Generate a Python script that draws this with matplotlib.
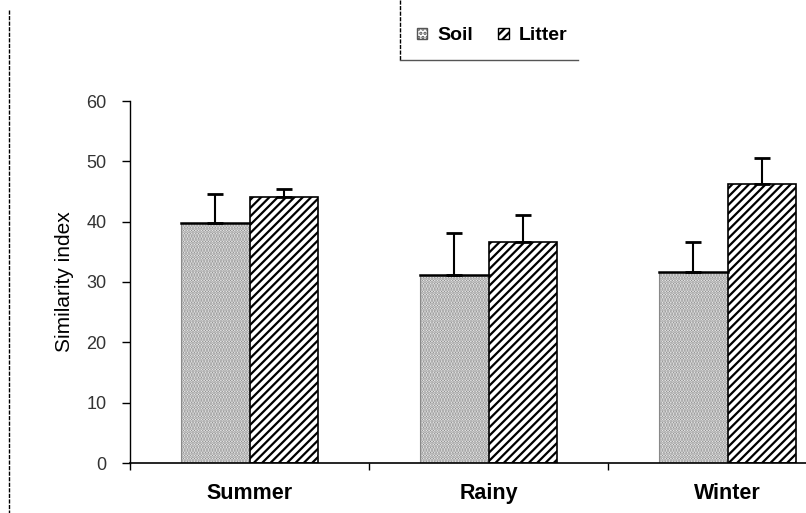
import numpy as np
import matplotlib
matplotlib.use("Agg")
import matplotlib.pyplot as plt
from matplotlib.lines import Line2D
from matplotlib.patches import Patch

plt.rcParams['font.family'] = ['Liberation Sans', 'DejaVu Sans']
plt.rcParams['hatch.linewidth'] = 1.6

seasons = ["Summer", "Rainy", "Winter"]
soil = [39.8, 31.2, 31.7]
soil_err = [4.8, 6.9, 4.9]
litter = [44.1, 36.6, 46.2]
litter_err = [1.3, 4.5, 4.4]

fig = plt.figure(figsize=(8.06, 5.13), dpi=100)
# axes runs past the right edge, like the cropped original
ax = fig.add_axes([130 / 806, 50 / 513, 717 / 806, 362 / 513])

x = np.arange(len(seasons))
w = 0.285
zeros = [0] * len(seasons)

plt.rcParams['hatch.color'] = '#777777'
b1 = ax.bar(x - w / 2, soil, w, color="white", edgecolor="#888888", hatch="......",
            linewidth=0.8, zorder=2)
ax.errorbar(x - w / 2, soil, yerr=[zeros, soil_err], fmt="none", ecolor="black",
            elinewidth=1.5, capsize=6, capthick=2, zorder=3)
for xi, v in zip(x - w / 2, soil):
    ax.plot([xi - w / 2, xi + w / 2], [v, v], color="black", lw=1.8, zorder=3)

b2 = ax.bar(x + w / 2, litter, w, color="white", edgecolor="black", hatch="////",
            linewidth=1.2, zorder=2)
for p in b2:
    p._hatch_color = (0, 0, 0, 1)
ax.errorbar(x + w / 2, litter, yerr=[zeros, litter_err], fmt="none", ecolor="black",
            elinewidth=1.5, capsize=6, capthick=2, zorder=3)

ax.set_xlim(-0.5, 2.5)
ax.set_ylim(0, 60)
ax.set_yticks(range(0, 61, 10))
ax.tick_params(axis="y", labelsize=13, labelcolor="#333333", length=6, width=1, pad=11)
ax.set_xticks([-0.5, 0.5, 1.5, 2.5])
ax.set_xticklabels([])
ax.tick_params(axis="x", length=5, width=1, direction="out")
for xi, s in zip(x, seasons):
    ax.text(xi, -5.0, s, ha="center", va="center", fontsize=15.5, fontweight="bold")
ax.set_ylabel("Similarity index", fontsize=15, labelpad=9)
for sp in ["top", "right"]:
    ax.spines[sp].set_visible(False)
ax.spines["left"].set_linewidth(1)
ax.spines["bottom"].set_linewidth(1.2)

# legend box pieces
handles = [Patch(facecolor="white", edgecolor="#555555", hatch="....", label="Soil"),
           Patch(facecolor="white", edgecolor="black", hatch="////", label="Litter")]
fig.legend(handles=handles, loc="center", bbox_to_anchor=(492 / 806, 1 - 36 / 513),
           ncol=2, frameon=False, prop={"weight": "bold", "size": 14},
           handlelength=0.55, handleheight=0.55, handletextpad=0.5, columnspacing=1.3)
fig.add_artist(Line2D([400 / 806, 400 / 806], [1, 1 - 60 / 513], color="black",
                      lw=1, ls=(0, (3, 1))))
fig.add_artist(Line2D([400 / 806, 578 / 806], [1 - 60 / 513, 1 - 60 / 513],
                      color="#555555", lw=1))
fig.add_artist(Line2D([9 / 806, 9 / 806], [1 - 10 / 513, 0], color="black",
                      lw=1, ls=(0, (3, 1))))

fig.savefig("out.png", dpi=100)
